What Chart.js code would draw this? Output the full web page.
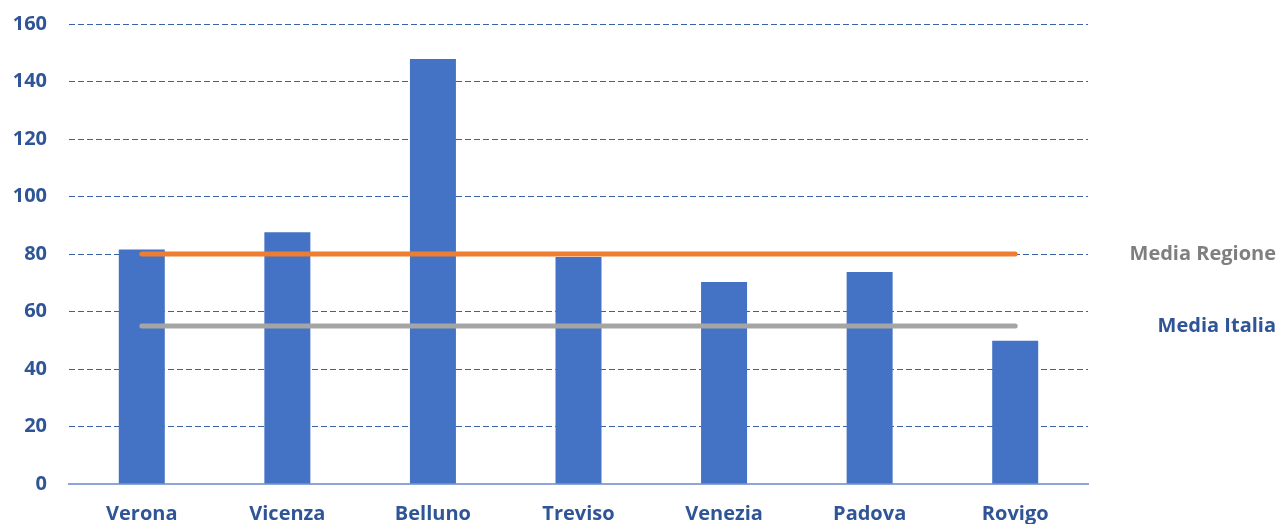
<!DOCTYPE html>
<html>
<head>
<meta charset="utf-8">
<script src="https://cdn.jsdelivr.net/npm/chart.js@4/dist/chart.umd.min.js"></script>
<style>
  html, body { margin: 0; padding: 0; background: #fff; }
  #wrap { width: 1278px; height: 524px; position: relative; }
</style>
</head>
<body>
<div id="wrap"><canvas id="chart"></canvas></div>
<script>
const provinces = ['Verona', 'Vicenza', 'Belluno', 'Treviso', 'Venezia', 'Padova', 'Rovigo'];
const values = [81.6, 87.6, 147.8, 79, 70.3, 73.7, 49.8];
const mediaRegione = [80, 80, 80, 80, 80, 80, 80];
const mediaItalia = [55, 55, 55, 55, 55, 55, 55];
const yTicks = [0, 20, 40, 60, 80, 100, 120, 140, 160];
// right-side captions, in the order the lines are listed
const sideLabels = ['Media Regione', 'Media Italia'];
const sideColors = ['#7F7F7F', '#2F5597'];

const blue = '#2F5597';
const fontFamily = '"Open Sans", sans-serif';

// writes the captions at the height of each average line
const sideLabelPlugin = {
  id: 'sideLabels',
  afterDraw(chart) {
    const { ctx, scales } = chart;
    ctx.save();
    ctx.font = `bold 20px ${fontFamily}`;
    ctx.textAlign = 'right';
    ctx.textBaseline = 'middle';
    [mediaRegione, mediaItalia].forEach((line, i) => {
      const y = scales.y.getPixelForValue(line[line.length - 1]);
      ctx.fillStyle = sideColors[i];
      ctx.fillText(sideLabels[i], chart.width - 2, y);
    });
    ctx.restore();
  }
};

new Chart(document.getElementById('chart').getContext('2d'), {
  data: {
    labels: provinces,
    datasets: [
      {
        type: 'line',
        data: mediaRegione,
        borderColor: '#ED7D31',
        borderWidth: 5,
        borderCapStyle: 'round',
        pointRadius: 0,
        order: 0
      },
      {
        type: 'line',
        data: mediaItalia,
        borderColor: '#A5A5A5',
        borderWidth: 5,
        borderCapStyle: 'round',
        pointRadius: 0,
        order: 0
      },
      {
        type: 'bar',
        data: values,
        backgroundColor: '#4472C4',
        barPercentage: 0.316,
        categoryPercentage: 1,
        order: 1
      }
    ]
  },
  options: {
    responsive: true,
    maintainAspectRatio: false,
    animation: false,
    layout: { padding: { top: 24, right: 190, bottom: 0, left: 0 } },
    plugins: {
      legend: { display: false },
      tooltip: { enabled: false }
    },
    scales: {
      x: {
        grid: { display: false, drawTicks: false },
        border: { color: '#8EA6D6', width: 2 },
        ticks: {
          color: blue,
          padding: 18,
          font: { family: fontFamily, size: 20, weight: 'bold' }
        },
        afterFit: s => { s.height = 40; s.paddingLeft = 0; s.paddingRight = 0; }
      },
      y: {
        min: 0,
        max: 160,
        afterBuildTicks: axis => { axis.ticks = yTicks.map(v => ({ value: v })); },
        grid: {
          drawTicks: false,
          color: c => (c.tick.value === 0 ? 'rgba(0,0,0,0)' : '#3A60A8'),
          lineWidth: 1
        },
        border: { display: false, dash: [6, 3] },
        ticks: {
          color: blue,
          padding: 22,
          font: { family: fontFamily, size: 20, weight: 'bold' }
        },
        afterFit: s => { s.width = 69; s.paddingTop = 0; s.paddingBottom = 0; }
      }
    }
  },
  plugins: [sideLabelPlugin]
});
</script>
</body>
</html>
